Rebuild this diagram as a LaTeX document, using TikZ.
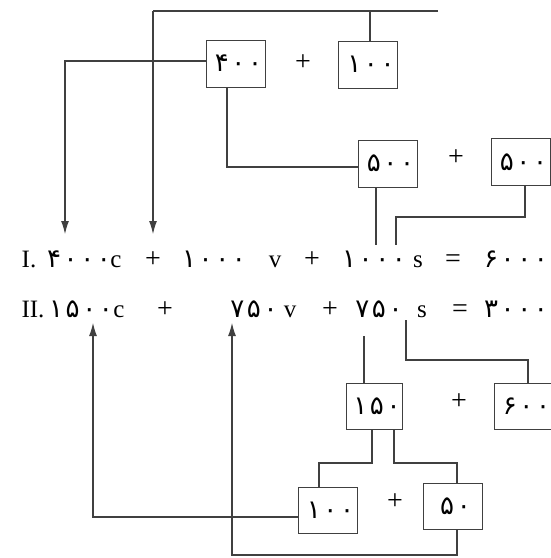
\documentclass[tikz,border=0pt]{standalone}
\usepackage{fontspec}
\setmainfont{Liberation Serif}
\newfontfamily\fa[LetterSpace=10]{DejaVu Sans}
\usetikzlibrary{arrows.meta}
\begin{document}
\begin{tikzpicture}[x=1pt,y=-1pt,
  ln/.style={draw=black!75,line width=1.1pt},
  arr/.style={ln,-{Latex[length=13pt,width=8pt]}},
  numbox/.style={draw=black!75,line width=1pt,minimum width=59pt,minimum height=47pt,inner sep=0pt,font=\fontsize{26}{28}\fa},
  num/.style={inner sep=0pt,anchor=base,font=\fontsize{26}{28}\fa},
  lat/.style={inner sep=0pt,anchor=base,font=\fontsize{25}{28}\selectfont},
  op/.style={inner sep=0pt,font=\fontsize{28}{30}\selectfont},
  opb/.style={op,anchor=base}
]
\fill[white] (0,0) rectangle (551,558);
\useasboundingbox (0,0) rectangle (551,558);

% boxes
\node[numbox] (b400) at (235.5,63.5) {\hspace{6pt}۴۰۰};
\node[numbox] (b100t) at (368,64.5) {\hspace{6pt}۱۰۰};
\node[op] (p1) at (303,63) {+};
\node[numbox] (b500a) at (387.5,163.5) {\hspace{6pt}۵۰۰};
\node[numbox] (b500b) at (520.5,162) {\hspace{6pt}۵۰۰};
\node[op] (p2) at (456,158) {+};
\node[numbox,minimum width=56pt,minimum height=46pt] (b150) at (374,406) {\hspace{6pt}۱۵۰};
\node[numbox,minimum height=46pt] (b600) at (523.5,406) {\hspace{6pt}۶۰۰};
\node[op] (p3) at (459,402) {+};
\node[numbox,minimum height=46pt] (b100b) at (327.5,510) {\hspace{6pt}۱۰۰};
\node[numbox,minimum height=46pt] (b50) at (452.5,506) {\hspace{6pt}۵۰};
\node[op] (p4) at (395,502) {+};

% equation I
\node[lat] (r1) at (29,267) {I.};
\node[num] (c1n) at (79,267) {۴۰۰۰};
\node[lat] (c1) at (116,267) {c};
\node[opb] (p5) at (153,267) {+};
\node[num] (v1n) at (214,267) {۱۰۰۰};
\node[lat] (v1) at (275,267) {v};
\node[opb] (p6) at (312,267) {+};
\node[num] (s1n) at (374,267) {۱۰۰۰};
\node[lat] (s1) at (418,267) {s};
\node[opb] (e1) at (453,267) {=};
\node[num] (t1) at (516,267) {۶۰۰۰};

% equation II
\node[lat] (r2) at (33,317) {II.};
\node[num] (c2n) at (81,317) {۱۵۰۰};
\node[lat] (c2) at (119,317) {c};
\node[opb] (p7) at (165,317) {+};
\node[num] (v2n) at (254,317) {۷۵۰};
\node[lat] (v2) at (290,317) {v};
\node[opb] (p8) at (330,317) {+};
\node[num] (s2n) at (379,317) {۷۵۰};
\node[lat] (s2) at (422,317) {s};
\node[opb] (e2) at (460,317) {=};
\node[num] (t2) at (516,317) {۳۰۰۰};

% coordinates
\coordinate (tr) at (438,11);
\coordinate (tl) at (153,11);
\coordinate (a1) at (65,234);
\coordinate (a2) at (153,234);
\coordinate (s1a) at (376,245);
\coordinate (s1b) at (396,245);
\coordinate (k1) at (396,217);
\coordinate (u1) at (364,336);
\coordinate (u2) at (406,320);
\coordinate (k2) at (406,360);
\coordinate (k3) at (319,463);
\coordinate (k4) at (457,463);
\coordinate (a3) at (93,323);
\coordinate (k5) at (232,555);
\coordinate (a4) at (232,323);

% connectors, top part
\draw[ln] (tr) -- (tl);
\draw[arr] (tl) -- (a2);
\draw[ln] ([xshift=2pt]b100t.north) -- ([xshift=2pt]b100t.north |- tl);
\draw[arr] ([yshift=2.5pt]b400.west) -| (a1);
\draw[ln] ([xshift=-8.5pt]b400.south) |- ([yshift=-3.5pt]b500a.west);
\draw[ln] ([xshift=-11.5pt]b500a.south) -- (s1a);
\draw[ln] ([xshift=4.5pt]b500b.south) |- (k1) -- (s1b);

% connectors, bottom part
\draw[ln] (u1) -- (u1 |- b150.north);
\draw[ln] (u2) -- (k2) -| ([xshift=4.5pt]b600.north);
\draw[ln] ([xshift=-2pt]b150.south) |- (k3) -- (k3 |- b100b.north);
\draw[ln] ([xshift=20pt]b150.south) |- (k4) -- (k4 |- b50.north);
\draw[arr] ([yshift=-7pt]b100b.west) -| (a3);
\draw[arr] ([xshift=4.5pt]b50.south) |- (k5) -- (a4);
\end{tikzpicture}
\end{document}
